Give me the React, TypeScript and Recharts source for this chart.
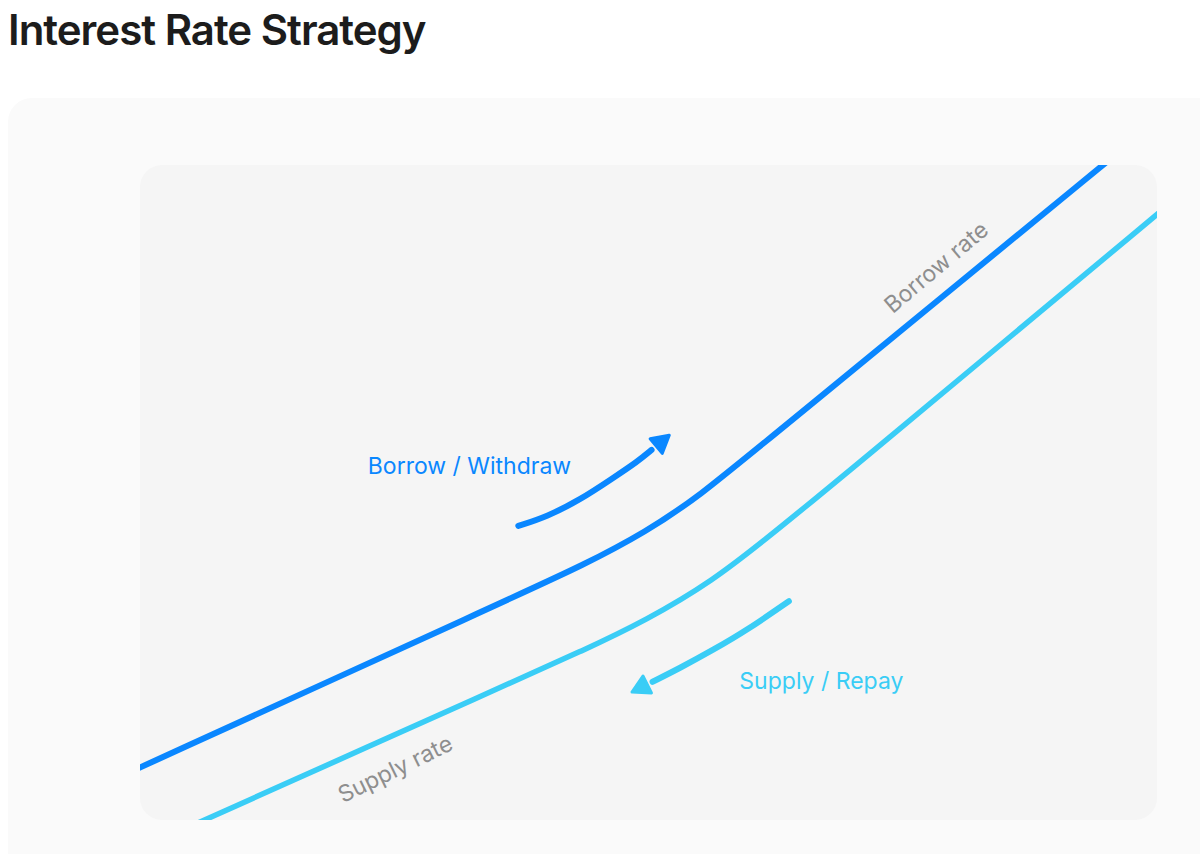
import { LineChart, Line, XAxis, YAxis, ReferenceDot } from 'recharts';

// utilization (x, %) and rate (y, %)
const borrowUtil = [-2.0, 37.4, 43.3, 49.8, 55.1, 61.0, 98.3];
const borrowRate = [6.6, 34.5, 38.7, 44.0, 49.6, 57.1, 104.6];
const supplyUtil = [3.9, 37.4, 43.3, 49.8, 56.4, 61.6, 66.9, 103.2];
const supplyRate = [-1.7, 21.6, 25.7, 30.5, 36.6, 43.0, 49.6, 96.6];

// direction arrows
const withdrawUtil = [37.2, 40.0, 43.3, 46.5, 48.9, 50.3];
const withdrawRate = [44.9, 46.3, 48.9, 52.2, 54.7, 56.5];
const repayUtil = [50.4, 53.1, 56.4, 59.7, 63.8];
const repayRate = [21.1, 23.2, 26.0, 29.0, 33.4];

// label anchors
const labelText = ['Borrow rate', 'Supply rate', 'Borrow / Withdraw', 'Supply / Repay'];
const labelUtil = [78.3, 25.1, 32.4, 67.0];
const labelRate = [84.4, 7.8, 54.0, 21.2];

const BLUE = '#0a87ff';
const CYAN = '#3acdf6';
const GREY = '#8e8e8e';

const zip = (xs: number[], ys: number[]) => xs.map((u, i) => ({ u, r: ys[i] }));

function arrowDot(color: string, at: 'start' | 'end') {
  return (props: any) => {
    const { cx, cy, index, points } = props;
    if (!points || points.length < 2) return <g key={`d-${index}`} />;
    const last = points.length - 1;
    const tipIdx = at === 'end' ? last : 0;
    if (index !== tipIdx) return <g key={`d-${index}`} />;
    const prev = at === 'end' ? points[last - 1] : points[1];
    const dx = cx - prev.x;
    const dy = cy - prev.y;
    const len = Math.hypot(dx, dy) || 1;
    const ux = dx / len;
    const uy = dy / len;
    const bx = cx + ux * 6;
    const by = cy + uy * 6;
    const tx = cx + ux * 23;
    const ty = cy + uy * 23;
    const px = -uy * 9.5;
    const py = ux * 9.5;
    return (
      <polygon
        key={`d-${index}`}
        points={`${tx},${ty} ${bx + px},${by + py} ${bx - px},${by - py}`}
        fill={color}
        stroke={color}
        strokeWidth={3}
        strokeLinejoin="round"
      />
    );
  };
}

const labelStyle = [
  { color: GREY, angle: -40 },
  { color: GREY, angle: -26 },
  { color: BLUE, angle: 0 },
  { color: CYAN, angle: 0 },
];

export default function App() {
  return (
    <div
      style={{
        position: 'relative',
        width: 1200,
        height: 854,
        overflow: 'hidden',
        background: '#ffffff',
        fontFamily: 'Inter, "Noto Sans", sans-serif',
      }}
    >
      <style>{'body{margin:0;overflow:hidden}'}</style>
      <div
        style={{
          position: 'absolute',
          left: 8,
          top: 9,
          fontSize: 42,
          fontWeight: 600,
          lineHeight: 1,
          letterSpacing: -1,
          color: '#1c1c1c',
          whiteSpace: 'nowrap',
        }}
      >
        Interest Rate Strategy
      </div>
      <div
        style={{
          position: 'absolute',
          left: 8,
          top: 98,
          width: 1240,
          height: 820,
          borderRadius: 24,
          background: '#fafafa',
        }}
      />
      <div
        style={{
          position: 'absolute',
          left: 140,
          top: 165,
          width: 1017,
          height: 655,
          borderRadius: 22,
          background: '#f5f5f5',
        }}
      />
      <div style={{ position: 'absolute', left: 140, top: 165 }}>
        <LineChart width={1017} height={655} margin={{ top: 0, right: 0, bottom: 0, left: 0 }}>
          <XAxis type="number" dataKey="u" domain={[0, 100]} allowDataOverflow hide />
          <YAxis type="number" dataKey="r" domain={[0, 100]} allowDataOverflow hide />
          <Line
            data={zip(borrowUtil, borrowRate)}
            dataKey="r"
            type="basis"
            stroke={BLUE}
            strokeWidth={6}
            dot={false}
            activeDot={false}
            isAnimationActive={false}
          />
          <Line
            data={zip(supplyUtil, supplyRate)}
            dataKey="r"
            type="basis"
            stroke={CYAN}
            strokeWidth={5.5}
            dot={false}
            activeDot={false}
            isAnimationActive={false}
          />
          <Line
            data={zip(withdrawUtil, withdrawRate)}
            dataKey="r"
            type="basis"
            stroke={BLUE}
            strokeWidth={6}
            strokeLinecap="round"
            dot={arrowDot(BLUE, 'end')}
            activeDot={false}
            isAnimationActive={false}
          />
          <Line
            data={zip(repayUtil, repayRate)}
            dataKey="r"
            type="basis"
            stroke={CYAN}
            strokeWidth={6}
            strokeLinecap="round"
            dot={arrowDot(CYAN, 'start')}
            activeDot={false}
            isAnimationActive={false}
          />
          {labelText.map((t, i) => (
            <ReferenceDot
              key={t}
              x={labelUtil[i]}
              y={labelRate[i]}
              r={0}
              shape={(p: any) => (
                <text
                  x={p.cx}
                  y={p.cy}
                  textAnchor="middle"
                  dominantBaseline="central"
                  fontSize={23}
                  fill={labelStyle[i].color}
                  fontFamily="Inter, sans-serif"
                  transform={`rotate(${labelStyle[i].angle} ${p.cx} ${p.cy})`}
                >
                  {t}
                </text>
              )}
            />
          ))}
        </LineChart>
      </div>
    </div>
  );
}
